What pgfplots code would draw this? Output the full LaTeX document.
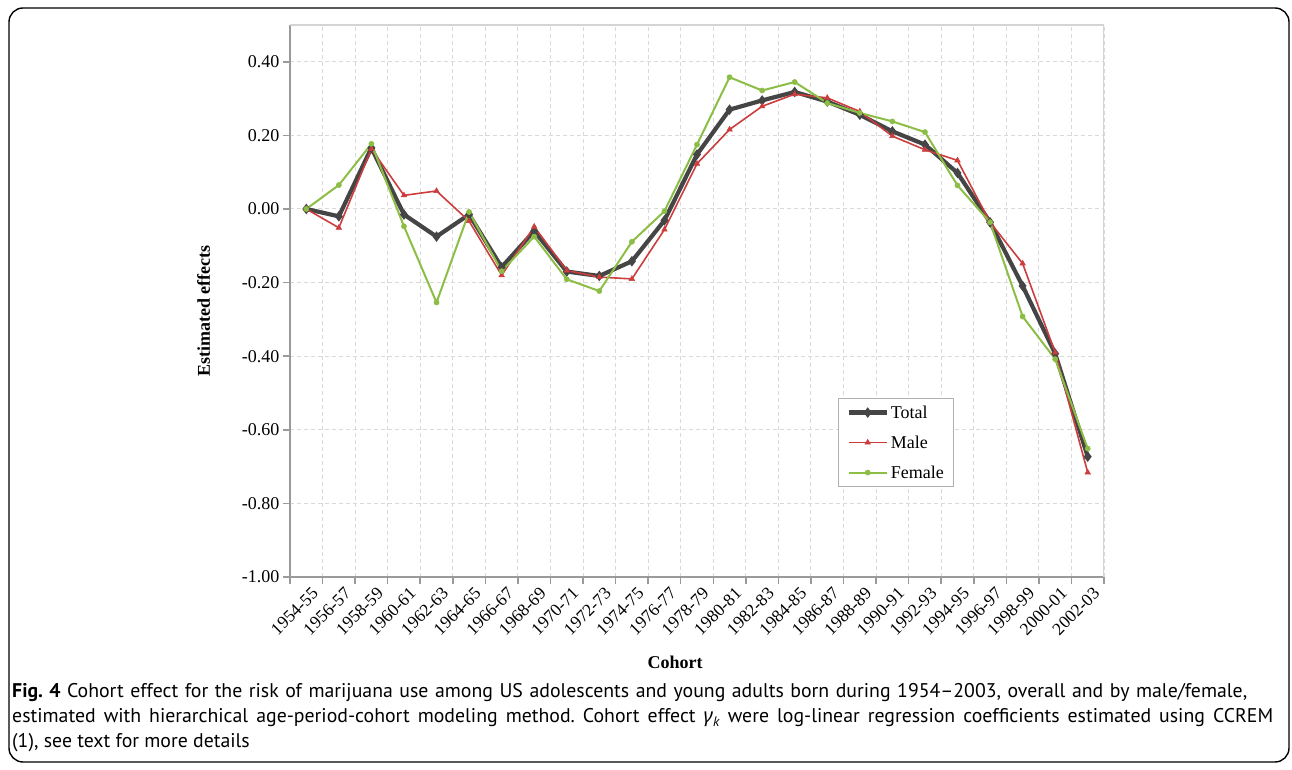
\documentclass[border=0pt]{standalone}
\usepackage{fontspec}
\setmainfont{Liberation Serif}
\newfontfamily\capfont{PT Sans}
\newfontfamily\greekfont{Noto Sans}
\usepackage{pgfplots}
\pgfplotsset{compat=1.18}
\definecolor{totalc}{HTML}{454545}
\definecolor{malec}{HTML}{CC3D3D}
\definecolor{femalec}{HTML}{8CBE46}
\definecolor{gridc}{HTML}{D9D9D9}
\definecolor{axisc}{HTML}{9A9A9A}
\definecolor{framec}{HTML}{D4D4D4}
\definecolor{legendc}{HTML}{B0B0B0}
\newcommand\capsize{\fontsize{19.8pt}{22pt}\selectfont\frenchspacing}
\begin{document}
\begin{tikzpicture}[x=1pt,y=1pt]
\path[use as bounding box] (0,0) rectangle (1292,770);
\draw[line width=1.4pt, rounded corners=14pt] (9,8) rectangle (1289,762);
\begin{axis}[
  at={(290pt,193pt)}, anchor=south west,
  width=814pt, height=552pt, scale only axis,
  xmin=-0.5, xmax=24.5, ymin=-1, ymax=0.5,
  xtick={-0.5,0.5,1.5,2.5,3.5,4.5,5.5,6.5,7.5,8.5,9.5,10.5,11.5,12.5,13.5,14.5,15.5,16.5,17.5,18.5,19.5,20.5,21.5,22.5,23.5,24.5},
  x tick label as interval,
  xticklabels={1954-55,1956-57,1958-59,1960-61,1962-63,1964-65,1966-67,1968-69,1970-71,1972-73,1974-75,1976-77,1978-79,1980-81,1982-83,1984-85,1986-87,1988-89,1990-91,1992-93,1994-95,1996-97,1998-99,2000-01,2002-03},
  ytick={-1,-0.8,-0.6,-0.4,-0.2,0,0.2,0.4},
  yticklabels={-1.00,-0.80,-0.60,-0.40,-0.20,0.00,0.20,0.40},
  grid=major,
  grid style={dash pattern=on 4pt off 3pt, color=gridc, line width=1pt},
  axis x line*=bottom, axis y line*=left,
  axis line style={-, color=axisc, line width=2pt},
  tick style={color=axisc, line width=1.5pt},
  tick align=outside, major tick length=7pt,
  xticklabel style={rotate=45, anchor=east, font=\fontsize{17.5}{20}\selectfont, xshift=5pt, yshift=-11pt},
  yticklabel style={font=\fontsize{18}{20}\selectfont},
  xlabel={\textbf{Cohort}}, ylabel={\textbf{Estimated effects}},
  every axis x label/.style={at={(axis description cs:0.473,-0.154)}, anchor=center, font=\fontsize{18}{20}\selectfont},
  every axis y label/.style={at={(axis description cs:-0.106,0.482)}, anchor=center, rotate=90, font=\fontsize{18}{20}\selectfont},
  legend style={at={(0.6732,0.3243)}, anchor=north west, draw=legendc, line width=1.2pt,
    font=\fontsize{18}{20}\selectfont, row sep=12pt, inner xsep=8pt, inner ysep=5pt},
  legend cell align=left,
  legend image code/.code={\draw[mark repeat=2, mark phase=2, #1] plot coordinates {(0pt,0pt) (19pt,0pt) (38pt,0pt)};},
]
\draw[framec, line width=1.2pt] (rel axis cs:0,1) -- (rel axis cs:1,1) -- (rel axis cs:1,0);
\addplot[color=totalc, line width=4.2pt, mark=diamond*, mark size=4.5pt, mark options={line width=1pt}] coordinates {
(0,0.000) (1,-0.020) (2,0.166) (3,-0.015) (4,-0.075) (5,-0.015) (6,-0.158) (7,-0.060) (8,-0.170) (9,-0.182) (10,-0.142) (11,-0.031) (12,0.148) (13,0.270) (14,0.295) (15,0.318) (16,0.292) (17,0.256) (18,0.211) (19,0.175) (20,0.098) (21,-0.036) (22,-0.209) (23,-0.393) (24,-0.673)};
\addlegendentry{Total}
\addplot[color=malec, line width=1.6pt, mark=triangle*, mark size=3.2pt, mark options={line width=0.5pt}] coordinates {
(0,0.000) (1,-0.051) (2,0.163) (3,0.037) (4,0.049) (5,-0.033) (6,-0.180) (7,-0.048) (8,-0.167) (9,-0.185) (10,-0.190) (11,-0.056) (12,0.123) (13,0.216) (14,0.279) (15,0.312) (16,0.302) (17,0.265) (18,0.198) (19,0.161) (20,0.132) (21,-0.036) (22,-0.148) (23,-0.390) (24,-0.716)};
\addlegendentry{Male}
\addplot[color=femalec, line width=2pt, mark=*, mark size=2.6pt, mark options={line width=0.5pt}] coordinates {
(0,0.000) (1,0.065) (2,0.177) (3,-0.047) (4,-0.254) (5,-0.008) (6,-0.169) (7,-0.075) (8,-0.191) (9,-0.223) (10,-0.089) (11,-0.006) (12,0.175) (13,0.358) (14,0.322) (15,0.345) (16,0.288) (17,0.261) (18,0.238) (19,0.209) (20,0.064) (21,-0.036) (22,-0.292) (23,-0.408) (24,-0.651)};
\addlegendentry{Female}
\end{axis}
\node[anchor=base west, inner sep=0pt] at (12,72) {\capfont\capsize\makebox[1235pt][s]{\textbf{Fig. 4} Cohort effect for the risk of marijuana use among US adolescents and young adults born during 1954–2003, overall and by male/female,}};
\node[anchor=base west, inner sep=0pt] at (12,47) {\capfont\capsize\makebox[1261pt][s]{estimated with hierarchical age-period-cohort modeling method. Cohort effect {\greekfont\itshape γ}\textsubscript{\itshape k} were log-linear regression coefficients estimated using CCREM}};
\node[anchor=base west, inner sep=0pt] at (12,22) {\capfont\capsize (1), see text for more details};
\end{tikzpicture}
\end{document}
